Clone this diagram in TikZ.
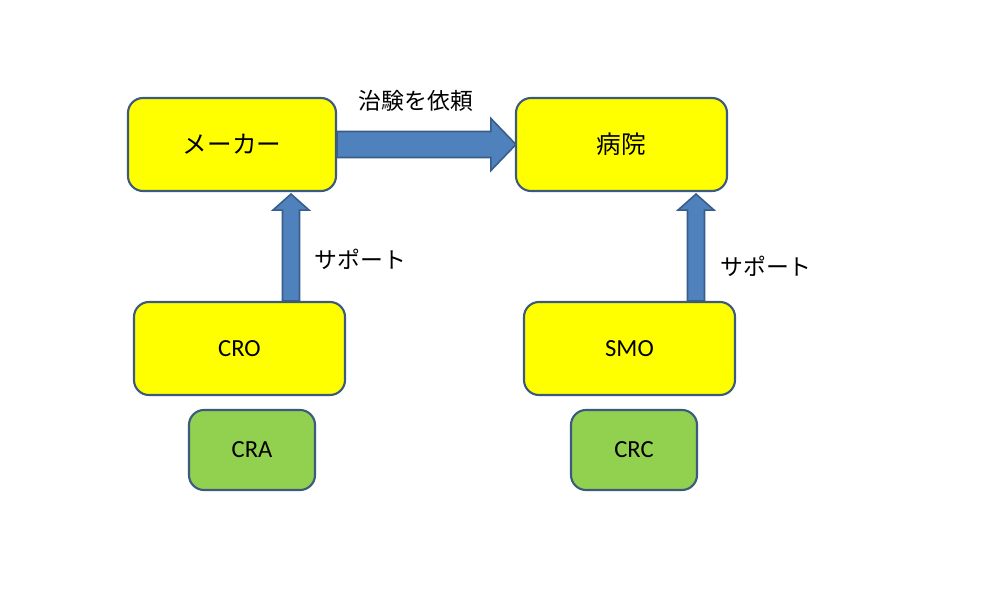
\documentclass[tikz,border=0pt]{standalone}
\usepackage{fontspec}
\setmainfont{Carlito}
\newfontfamily\jpfont{Noto Sans CJK JP}
\usetikzlibrary{calc}

\definecolor{boxline}{HTML}{3B5A7D}
\definecolor{boxyellow}{HTML}{FFFF00}
\definecolor{boxgreen}{HTML}{92D050}
\definecolor{arrowblue}{HTML}{4F81BD}
\definecolor{arrowline}{HTML}{385D8A}

\tikzset{
  orgbox/.style={draw=boxline,line width=1.2pt,rounded corners=0.3cm,fill=boxyellow,
    minimum width=4.22cm,minimum height=1.86cm,inner sep=0pt,
    font=\fontsize{14pt}{16pt}\selectfont},
  staffbox/.style={orgbox,fill=boxgreen,minimum width=2.52cm,minimum height=1.6cm},
  jptext/.style={font=\jpfont\fontsize{13pt}{15pt}\selectfont},
  barrow/.style={draw=arrowline,line width=0.9pt,fill=arrowblue,line join=miter}
}

% up arrow from #1 (base) to #2 (tip)
\newcommand{\uparr}[2]{%
  \draw[barrow] ($(#1)+(-0.17,0)$) -- ($(#2)+(-0.17,-0.32)$) -- ($(#2)+(-0.36,-0.32)$)
    -- (#2) -- ($(#2)+(0.36,-0.32)$) -- ($(#2)+(0.17,-0.32)$) -- ($(#1)+(0.17,0)$) -- cycle;}

\begin{document}
\begin{tikzpicture}
\useasboundingbox (0,0) rectangle (19.66,-12.28);

% boxes
\node[orgbox,minimum width=4.16cm] (maker) at (4.64,-2.89) {\jpfont メーカー};
\node[orgbox] (hosp) at (12.43,-2.89) {\jpfont 病院};
\node[orgbox] (cro) at (4.79,-6.97) {CRO};
\node[orgbox] (smo) at (12.59,-6.97) {SMO};
\node[staffbox] (cra) at (5.04,-9.0) {CRA};
\node[staffbox] (crc) at (12.68,-9.0) {CRC};

% arrow ends
\coordinate (reqs) at (maker.east);
\coordinate (reqt) at ([xshift=0.02cm]hosp.west);
\coordinate (crob) at ([xshift=1.03cm]cro.north);
\coordinate (crot) at ([xshift=1.18cm,yshift=-0.04cm]maker.south);
\coordinate (smob) at ([xshift=1.33cm]smo.north);
\coordinate (smot) at ([xshift=1.49cm,yshift=-0.04cm]hosp.south);

% request arrow
\draw[barrow] ($(reqs)+(0,0.26)$) -- ($(reqt)+(-0.5,0.26)$) -- ($(reqt)+(-0.5,0.52)$)
  -- (reqt) -- ($(reqt)+(-0.5,-0.52)$) -- ($(reqt)+(-0.5,-0.26)$) -- ($(reqs)+(0,-0.26)$) -- cycle;
\uparr{crob}{crot}
\uparr{smob}{smot}

% labels
\node[jptext] (reqlab) at (8.32,-2.02) {治験を依頼};
\node[jptext] (suplab1) at (7.21,-5.18) {サポート};
\node[jptext] (suplab2) at (15.32,-5.32) {サポート};
\end{tikzpicture}
\end{document}
